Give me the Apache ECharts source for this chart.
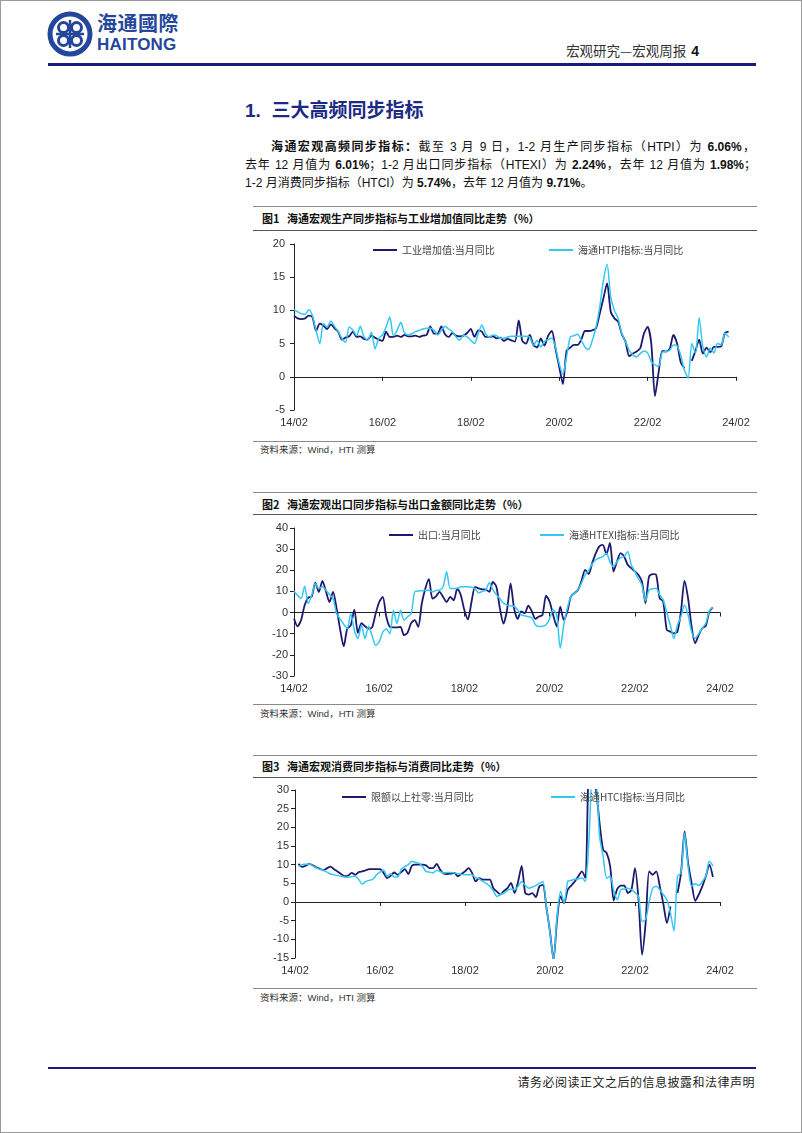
<!DOCTYPE html>
<html>
<head>
<meta charset="utf-8">
<script src="https://cdn.jsdelivr.net/npm/echarts@6/dist/echarts.min.js"></script>
<style>
  html, body { margin: 0; padding: 0; background: #fff; }
  body {
    width: 802px; height: 1133px; position: relative; overflow: hidden;
    font-family: "Liberation Sans", "Noto Sans CJK SC", sans-serif; color: #111;
  }
  .abs { position: absolute; }
  .frame { left: 0; top: 0; width: 800px; height: 1131px; border: 1px solid #9a9a9a; }
  .logo-cn { left: 97px; top: 11px; font-size: 20px; font-weight: bold; color: #24479c; letter-spacing: 0.5px; line-height: 24px; font-family: "Noto Sans CJK SC"; }
  .logo-en { left: 97px; top: 35px; font-size: 17px; font-weight: bold; color: #24479c; line-height: 19px; letter-spacing: 0.2px; }
  .hdr { right: 103px; top: 41px; font-size: 13.5px; color: #333; line-height: 18px; font-family: "Noto Sans CJK SC"; }
  .hdr b { font-family: "Liberation Sans"; font-size: 14px; margin-left: 5px; color: #111; }
  .navy-line { background: #1b1b7e; height: 3px; }
  .h1 { left: 245px; top: 98px; font-size: 19px; font-weight: bold; color: #1b2a84; line-height: 26px; font-family: "Liberation Sans", "Noto Sans CJK SC"; }
  .para { font-size: 12px; line-height: 18px; color: #111; white-space: nowrap; font-family: "Liberation Sans", "Noto Sans CJK SC"; }
  .para.j { text-align: justify; text-align-last: justify; }
  .para b { font-weight: bold; }
  .rule { height: 1px; background: #8a8a8a; left: 253px; width: 504px; }
  .rule.dark { background: #555; }
  .figt { left: 262px; font-size: 11px; font-weight: bold; color: #111; line-height: 16px; font-family: "Noto Sans CJK SC"; }
  .src { left: 260px; font-size: 9.5px; color: #333; line-height: 14px; font-family: "Liberation Sans", "Noto Sans CJK SC"; }
  .foot { right: 47px; top: 1074px; font-size: 12px; color: #222; line-height: 16px; font-family: "Noto Sans CJK SC"; letter-spacing: 0.5px; }
  .chart { left: 245px; width: 515px; }
</style>
</head>
<body>
<div class="abs frame"></div>

<!-- header -->
<svg class="abs" style="left:47px;top:11px" width="46" height="46" viewBox="0 0 46 46">
  <circle cx="23" cy="23" r="20" fill="#fff" stroke="#24479c" stroke-width="5"/>
  <g fill="none" stroke="#24479c" stroke-width="3">
    <circle cx="16.5" cy="16.5" r="5"/>
    <circle cx="29.5" cy="16.5" r="5"/>
    <circle cx="16.5" cy="29.5" r="5"/>
    <circle cx="29.5" cy="29.5" r="5"/>
  </g>
  <path d="M23 9 V37 M9 23 H37" stroke="#24479c" stroke-width="2.5"/>
</svg>
<div class="abs logo-cn">海通國際</div>
<div class="abs logo-en">HAITONG</div>
<div class="abs hdr">宏观研究—宏观周报<b>4</b></div>
<div class="abs navy-line" style="left:48px;top:63px;width:708px"></div>

<div class="abs h1">1.&nbsp; 三大高频同步指标</div>

<div class="abs para j" style="left:271px;top:138px;width:484px"><b>海通宏观高频同步指标：</b>截至 3 月 9 日，1-2 月生产同步指标（HTPI）为 <b>6.06%</b>，</div>
<div class="abs para j" style="left:245px;top:156px;width:511px">去年 12 月值为 <b>6.01%</b>；1-2 月出口同步指标（HTEXI）为 <b>2.24%</b>，去年 12 月值为 <b>1.98%</b>；</div>
<div class="abs para" style="left:245px;top:174px">1-2 月消费同步指标（HTCI）为 <b>5.74%</b>，去年 12 月值为 <b>9.71%</b>。</div>

<!-- figure 1 -->
<div class="abs rule" style="top:206px"></div>
<div class="abs figt" style="top:210px">图1&nbsp;&nbsp; 海通宏观生产同步指标与工业增加值同比走势（%）</div>
<div class="abs rule dark" style="top:230px"></div>
<div class="abs chart" id="chart_ip" style="top:232px;height:206px"></div>
<div class="abs rule" style="top:441px"></div>
<div class="abs src" style="top:443px">资料来源：Wind，HTI 测算</div>

<!-- figure 2 -->
<div class="abs rule" style="top:492px"></div>
<div class="abs figt" style="top:496px">图2&nbsp;&nbsp; 海通宏观出口同步指标与出口金额同比走势（%）</div>
<div class="abs rule dark" style="top:514px"></div>
<div class="abs chart" id="chart_ex" style="top:516px;height:186px"></div>
<div class="abs rule" style="top:704px"></div>
<div class="abs src" style="top:707px">资料来源：Wind，HTI 测算</div>

<!-- figure 3 -->
<div class="abs rule" style="top:755px"></div>
<div class="abs figt" style="top:758px">图3&nbsp;&nbsp; 海通宏观消费同步指标与消费同比走势（%）</div>
<div class="abs rule dark" style="top:777px"></div>
<div class="abs chart" id="chart_rt" style="top:778px;height:206px"></div>
<div class="abs rule" style="top:988px"></div>
<div class="abs src" style="top:991px">资料来源：Wind，HTI 测算</div>

<!-- footer -->
<div class="abs navy-line" style="left:48px;top:1067px;width:708px;height:2px"></div>
<div class="abs foot">请务必阅读正文之后的信息披露和法律声明</div>

<script>
// 月份类目 14/02 ~ 24/02
const months = [];
for (let y = 2014; y <= 2024; y++) {
    for (let m = 1; m <= 12; m++) {
        if (y === 2014 && m < 2) continue;
        if (y === 2024 && m > 2) break;
        months.push(String(y).slice(2) + '/' + (m < 10 ? '0' + m : m));
    }
}

// 图1 工业增加值 vs HTPI
const ipYoy = [
    9.2, 8.8, 8.7, 8.8, 9.2, 9.0, 6.9, 8.0, 7.7, 7.2, 7.9,
    7.3, 6.8, 5.6, 5.9, 6.1, 6.8, 6.0, 6.1, 5.7, 5.6, 6.2, 5.9,
    5.6, 5.4, 6.8, 6.0, 6.0, 6.2, 6.0, 6.3, 6.1, 6.1, 6.2, 6.0,
    6.2, 6.3, 7.6, 6.5, 6.5, 7.6, 6.4, 6.0, 6.6, 6.2, 6.1, 6.2,
    6.6, 7.2, 6.0, 7.0, 6.8, 6.0, 6.0, 6.1, 5.8, 5.9, 5.4, 5.7,
    5.5, 5.3, 8.5, 5.4, 5.0, 6.3, 4.8, 4.4, 5.8, 4.7, 6.2, 6.9,
    4.2, 1.5, -1.1, 3.9, 4.4, 4.8, 4.8, 5.6, 6.9, 6.9, 7.0, 7.3,
    9.5, 11.8, 14.1, 9.8, 8.8, 8.3, 6.4, 5.3, 3.1, 3.5, 3.8, 4.3,
    6.5, 7.5, 5.0, -2.9, 0.7, 3.9, 3.8, 4.2, 6.3, 5.0, 2.2, 1.3,
    null, 2.4, 3.9, 5.6, 3.5, 4.4, 3.7, 4.5, 4.5, 4.6, 6.6, 6.8
];
const htpi = [
    10.1, 9.8, 9.5, 9.4, 10.1, 9.2, 7.0, 5.0, 8.0, 7.5, 8.4,
    7.6, 6.8, 5.8, 5.2, 7.5, 7.0, 6.2, 7.6, 6.0, 5.5, 6.7, 4.2,
    5.8, 6.3, 7.5, 9.0, 6.2, 7.0, 8.2, 6.6, 6.3, 6.5, 6.8, 7.0,
    7.2, 7.3, 7.3, 7.0, 6.3, 7.0, 7.6, 7.2, 6.8, 6.0, 5.5, 6.3,
    6.0, 5.5, 5.0, 6.5, 7.8, 6.5, 6.0, 6.3, 6.2, 5.8, 5.8, 6.0,
    6.1, 6.1, 6.1, 6.1, 6.1, 6.0, 4.7, 5.5, 4.5, 5.3, 5.6, 5.8,
    4.5, 2.0, 0.4, 3.0, 6.0, 6.2, 6.4, 5.5, 4.5, 4.1, 5.5, 7.5,
    10.5, 14.5, 16.9, 12.0, 10.0, 8.8, 6.5, 5.3, 4.0, 3.3, 3.0, 3.5,
    3.9, 3.6, 2.3, 1.8, 1.6, 3.7, 3.8, 4.0, 4.8, 4.7, 3.2, 1.0,
    -0.2, 5.0, 3.5, 8.9, 4.5, 3.0, 4.3, 3.6, 5.0, 4.8, 6.6, 6.0
];

// 图2 出口 vs HTEXI
const exportYoy = [
    -2.8, -6.5, -3.5, 3.5, 7.1, 7.5, 14.2, 9.8, 15, 10, 5,
    9.8, 2, -8, -16, -7.6, -6, 1.4, -9.6, -5, -6.5, -7.6, -7,
    -0.5, 5, 7.4, -2, -6.8, -7, -7, -6.8, -10.7, -9.5, -5, -3.6,
    -6.8, 4.3, 11.4, 15.8, 6.6, 7.7, 9.8, 7.4, 5, 7.4, 5.8, 11.4,
    8.2, 1.1, -3.2, 5, 12.2, 11.4, 11, 10.9, 9.8, 14.5, 12.2, 2,
    -5.2, 1.1, 13.8, 2, -3, 0.5, -0.3, 3.3, 0.5, -3, -1.9, -1.1,
    8, 5.2, -1.1, -6.6, 2.8, -3.5, 0.5, 7.6, 9.2, 10.7, 15, 20.2,
    18.2, 23.4, 28, 31.3, 32, 27.6, 32.9, 19.4, 24.2, 28.1, 26.5, 22.6,
    21, 19.5, 17.9, 14.7, 4.4, 17, 18.2, 17.9, 6.8, 5.2, -8.2, -9,
    -9.8, -9, 0.5, 15, 6.8, -6.6, -14.5, -10.6, -7.4, -6.3, 0.5, 2.4
];
const htexi = [
    10.1, 8.2, 6.6, 12.5, 4.3, 8.2, 13.7, 11.4, 12.2, 10.6, 8.5,
    6.6, -0.5, -3, -5.5, -7.6, -0.5, -8.4, -12.3, -6, -12.3, -6.5, -11,
    -15.5, -13.9, -9.2, -7.6, -10, 1.1, -5.2, 1.1, -3.6, -2, -0.5, 9.8,
    10.2, 10.3, 10.5, 10.6, 9.8, 10.5, 10.6, 12.2, 19.3, 11.4, 11.4, 11.4,
    12.2, 12.2, 12.2, 12, 11.4, 9.3, 10, 10.6, 14.1, 10.9, 8.5, 6.6,
    4.5, 3.5, 3.2, 3, 1.3, -1.1, -1.5, -2, -2.4, -5.8, -6.6, -6.5,
    -5.8, -3, 1.3, -1.1, -16.9, -5.8, 2.1, 7.6, 9, 10.7, 14, 17.9,
    20, 22.9, 25, 25.8, 26.5, 28.1, 24, 21.8, 24.2, 26, 26.5, 28.9,
    22.6, 19.4, 16, 13.1, 5.5, 10.7, 11.2, 11.5, 8.4, 6, 0, -5.8,
    -12.2, -6, -1.9, 3.6, -1.1, -9, -12.2, -10, -7.4, -5.1, 0.8, 2.4
];

// 图3 限额以上社零 vs HTCI
const retailYoy = [
    null, 10.2, 9.4, 9.7, 10.2, 9.8, 9.3, 8.9, 8.5, 9.0, 9.5,
    8.8, 8.2, 7.5, 6.9, 7.1, 7.8, 7.3, 8.0, 8.2, 8.5, 8.8, 8.8,
    8.8, 8.8, 7.8, 6.4, 7.0, 7.9, 7.3, 8.0, 8.8, 7.5, 9.7, 10,
    10, 10, 9.8, 9.1, 9.1, 10.2, 8.6, 7.6, 7.5, 7.6, 7.8, 6.9,
    7.5, 8.2, 9.1, 7.8, 5.5, 6.4, 6.0, 6.0, 6.0, 3.7, 2.8, 2.0,
    3.0, 3.7, 5.1, 2.4, 5.5, 9.7, 2.4, 2.0, 2.4, 1.3, 4.2, 4.6,
    -1.6, -8, -15.5, -4.7, 1.5, -0.3, 3.3, 4.4, 5.5, 6.9, 8.2, 6.4,
    34, 34, 30, 21.1, 14, 13.1, 9.5, 0.4, 3.5, 4.4, 4.4, 2.4,
    3.3, 9.1, 0.6, -14.1, -5.6, 8.2, 7.3, 8.2, 4.2, -0.5, -5.6, -1.2,
    null, 2.4, 7.8, 18.9, 10.4, 5, 0.3, 2, 4.2, 6.9, 10, 6.7
];
const htci = [
    null, 9.5, 10, 10.1, 10.2, 9.7, 9.1, 8.8, 8.5, 8.0, 7.5,
    7.3, 7.1, 6.9, 6.7, 6.6, 6.8, 6.9, 6.0, 4.8, 5.5, 5.8, 6.1,
    7.3, 8.0, 8.6, 6.9, 7.6, 6.7, 6.7, 8.8, 9.5, 10, 10.9, 10.6,
    10.4, 9.5, 8.2, 8.0, 7.8, 8.5, 8.1, 7.8, 7.9, 7.9, 7.8, 7.6,
    7.4, 7.3, 7.3, 7.3, 6.5, 6.2, 5.5, 5.0, 4.2, 3.0, 1.5, 2.0,
    2.4, 3.1, 3.5, 3.3, 4.2, 5.5, 4.5, 3.7, 4.0, 4.4, 5.0, 5.5,
    -1.2, -8.3, -15.5, -3.8, 2.9, -0.3, 5.5, 5.8, 6.1, 6.2, 6.4, 5.5,
    16.7, 34, 33, 17.6, 12.2, 6.4, 6.9, 3, 0.6, 3.3, 3.5, 3.7,
    3.3, 2.5, 1.5, -5.2, -4.7, 0, 3.7, 4.2, 3.3, 2, 0.6, -2.9,
    -7.8, 6.9, 7.8, 18.4, 9.5, 4.2, 4.9, 4.4, 5.5, 6.9, 10.9, 9.7
];

const NAVY = '#1b1a6e';
const CYAN = '#33c8f4';

const chartList = [
    {
        id: 'chart_ip',
        grid: { left: 49, top: 12, width: 442, height: 166 },
        yMin: -5, yMax: 20, yStep: 5, yLabelMargin: 9,
        names: ['工业增加值:当月同比', '海通HTPI指标:当月同比'],
        data: [ipYoy, htpi],
        legendLeft: [123, 299], legendTop: 8
    },
    {
        id: 'chart_ex',
        grid: { left: 49, top: 12, width: 426, height: 148 },
        yMin: -30, yMax: 40, yStep: 10, yLabelMargin: 6,
        names: ['出口:当月同比', '海通HTEXI指标:当月同比'],
        data: [exportYoy, htexi],
        legendLeft: [139, 290], legendTop: 9
    },
    {
        id: 'chart_rt',
        grid: { left: 50, top: 12, width: 425, height: 168 },
        yMin: -15, yMax: 30, yStep: 5, yLabelMargin: 6,
        names: ['限额以上社零:当月同比', '海通HTCI指标:当月同比'],
        data: [retailYoy, htci],
        legendLeft: [92, 301], legendTop: 9
    }
];

function buildOption(cfg) {
    const legendCommon = {
        top: cfg.legendTop,
        icon: 'rect',
        itemWidth: 24,
        itemHeight: 2,
        itemGap: 4,
        textStyle: { fontSize: 10, color: '#444', fontFamily: 'Noto Sans CJK SC' }
    };
    return {
        animation: false,
        grid: Object.assign({ outerBoundsMode: 'none', containLabel: false }, cfg.grid),
        legend: [
            Object.assign({ left: cfg.legendLeft[0], data: [cfg.names[0]] }, legendCommon),
            Object.assign({ left: cfg.legendLeft[1], data: [cfg.names[1]] }, legendCommon)
        ],
        xAxis: [
            {
                // 底部只放日期标签
                type: 'category',
                data: months,
                position: 'bottom',
                boundaryGap: false,
                axisLine: { show: false, onZero: false },
                axisTick: { show: false },
                axisLabel: {
                    interval: 23,
                    margin: 7,
                    fontSize: 11,
                    color: '#333',
                    fontFamily: 'Liberation Sans'
                },
                splitLine: { show: false }
            },
            {
                // 0 轴线和刻度
                type: 'category',
                data: months,
                position: 'top',
                boundaryGap: false,
                axisLine: { show: true, onZero: true, lineStyle: { color: '#222', width: 1 } },
                axisTick: { show: true, interval: 23, inside: true, length: 4, lineStyle: { color: '#222' } },
                axisLabel: { show: false },
                splitLine: { show: false }
            }
        ],
        yAxis: {
            type: 'value',
            min: cfg.yMin,
            max: cfg.yMax,
            interval: cfg.yStep,
            axisLine: { show: true, lineStyle: { color: '#222', width: 1 } },
            axisTick: { show: true, length: 4, lineStyle: { color: '#222' } },
            axisLabel: { margin: cfg.yLabelMargin, fontSize: 11, color: '#333', fontFamily: 'Liberation Sans' },
            splitLine: { show: false }
        },
        series: [
            {
                name: cfg.names[0],
                type: 'line',
                xAxisIndex: 0,
                data: cfg.data[0],
                showSymbol: false,
                smooth: 0.25,
                connectNulls: false,
                lineStyle: { color: NAVY, width: 1.8 },
                itemStyle: { color: NAVY }
            },
            {
                name: cfg.names[1],
                type: 'line',
                xAxisIndex: 0,
                data: cfg.data[1],
                showSymbol: false,
                smooth: 0.25,
                lineStyle: { color: CYAN, width: 1.5 },
                itemStyle: { color: CYAN }
            }
        ]
    };
}

chartList.forEach(cfg => {
    let node = document.getElementById(cfg.id);
    let myChart = echarts.init(node, null, { renderer: 'canvas' });
    try {
        myChart.setOption(buildOption(cfg));
    } catch (e) {
        console.log(e);
    }
});
</script>
</body>
</html>
